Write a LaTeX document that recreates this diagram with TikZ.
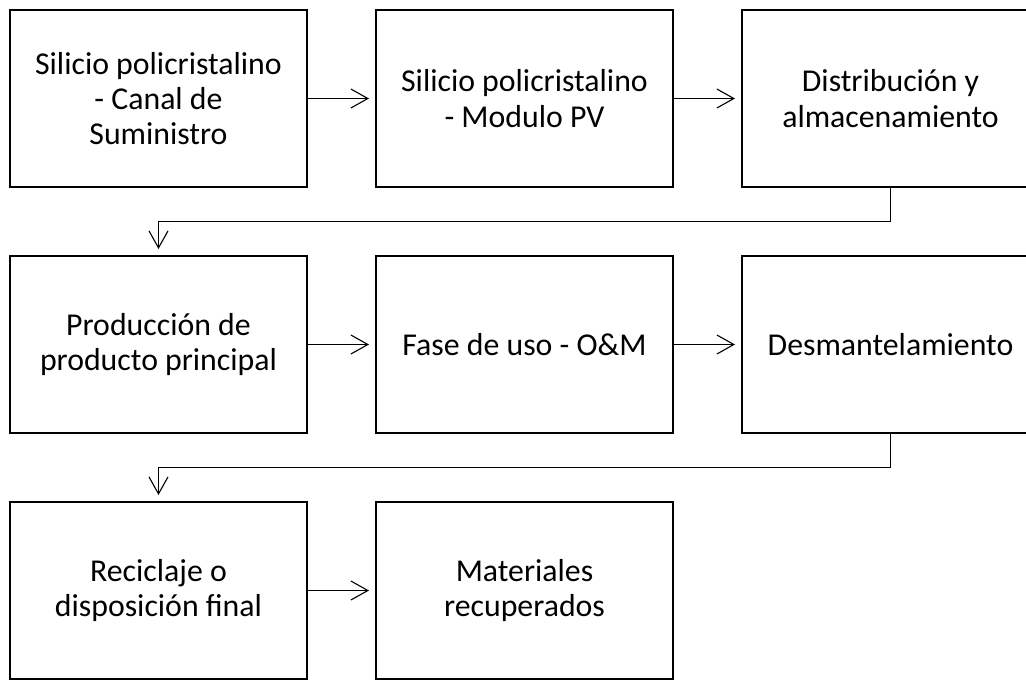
\documentclass[tikz,border=0pt]{standalone}
\usepackage{fontspec}
\setmainfont{Carlito}
\usepackage{tikz}
\usetikzlibrary{positioning, arrows.meta, calc}

\begin{document}
\begin{tikzpicture}[node distance=34.5pt,
  stage/.style={draw, rectangle, line width=1.3pt, outer sep=0pt, minimum width=148.5pt, minimum height=88.5pt,
    align=center, inner sep=2pt, font=\fontsize{15.9}{17.6}\selectfont},
  link/.style={line width=0.55pt, -{Straight Barb[length=8.5pt,width=9.5pt]}, shorten >=3.5pt}]
\useasboundingbox (0,0) rectangle (513pt,-340.5pt);

\node[stage] (sum) at (79.25pt,-49.25pt) {Silicio policristalino\\- Canal de\\Suministro};
\node[stage, right=of sum] (modulo) {Silicio policristalino\\- Modulo PV};
\node[stage, right=of modulo] (dist) {Distribución y\\almacenamiento};
\node[stage, below=of sum] (prod) {Producción de\\producto principal};
\node[stage, right=of prod] (uso) {Fase de uso - O\&M};
\node[stage, right=of uso] (desm) {Desmantelamiento};
\node[stage, below=of prod] (recic) {Reciclaje o\\disposición final};
\node[stage, right=of recic] (mat) {Materiales\\recuperados};

\draw[link] (sum) -- (modulo);
\draw[link] (modulo) -- (dist);
\draw[link] (dist.south) -- ++(0,-17.25pt) -| (prod.north);
\draw[link] (prod) -- (uso);
\draw[link] (uso) -- (desm);
\draw[link] (desm.south) -- ++(0,-17.25pt) -| (recic.north);
\draw[link] (recic) -- (mat);
\end{tikzpicture}
\end{document}
